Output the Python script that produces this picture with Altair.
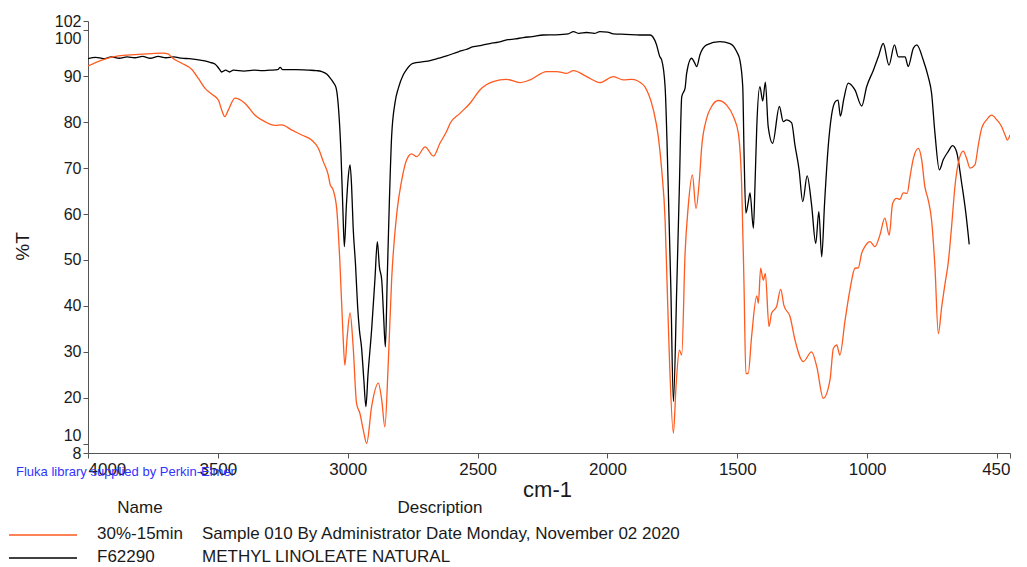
import altair as alt
import pandas as pd

# ---- data ----
black_wn = [4000, 3970, 3940, 3910, 3880, 3850, 3820, 3790, 3760, 3730, 3700, 3670, 3640, 3610, 3580,
            3550, 3530, 3510, 3495, 3485, 3470, 3455, 3440, 3400, 3360, 3330, 3300, 3270, 3260, 3250,
            3200, 3150, 3120, 3100, 3080, 3065, 3055, 3045, 3036, 3026, 3019, 3013, 3005, 2998, 2991,
            2985, 2979, 2970, 2962, 2955, 2947, 2938, 2930, 2922, 2908, 2895, 2886, 2878, 2869, 2862,
            2855, 2848, 2840, 2831, 2818, 2805, 2786, 2773, 2749, 2700, 2683, 2650, 2619, 2574, 2545,
            2516, 2485, 2452, 2420, 2388, 2355, 2324, 2290, 2247, 2200, 2151, 2131, 2110, 2080, 2050,
            2029, 2000, 1977, 1930, 1875, 1836, 1812, 1798, 1791, 1778, 1766, 1756, 1746, 1733, 1723,
            1714, 1701, 1695, 1676, 1665, 1656, 1644, 1618, 1567, 1528, 1502, 1490, 1479, 1474, 1467,
            1458, 1451, 1438, 1432, 1425, 1413, 1402, 1392, 1381, 1364, 1338, 1323, 1310, 1291, 1278,
            1262, 1248, 1231, 1214, 1198, 1186, 1175, 1164, 1151, 1137, 1122, 1112, 1103, 1090, 1073,
            1047, 1021, 1002, 976, 957, 938, 916, 895, 880, 854, 842, 822, 809, 784, 765,
            752, 739, 722, 707, 688, 671, 656, 636, 620, 607]
black_t = [93.8, 94.1, 93.8, 94.2, 93.9, 94.2, 94.0, 94.3, 93.9, 94.3, 94.0, 94.2, 93.9, 93.8, 93.6,
           93.3, 93.0, 92.6, 91.6, 90.9, 91.3, 90.9, 91.3, 91.1, 91.3, 91.2, 91.3, 91.4, 91.9, 91.4,
           91.4, 91.3, 91.2, 91.0, 90.4, 89.4, 88.6, 87.5, 83.4, 73.3, 61.6, 52.9, 62.0, 68.0, 70.7,
           66.0, 57.0, 49.0, 40.0, 34.8, 31.1, 24.0, 18.1, 25.0, 34.8, 46.0, 54.0, 48.5, 45.6, 38.0,
           31.1, 45.6, 62.0, 76.8, 84.2, 87.4, 90.3, 91.5, 92.8, 93.2, 93.4, 93.9, 94.4, 95.3, 95.8,
           96.4, 96.7, 97.1, 97.4, 97.9, 98.1, 98.4, 98.6, 98.95, 99.0, 99.2, 99.7, 99.3, 99.5, 99.3,
           99.7, 99.6, 99.2, 99.1, 98.95, 98.95, 97.0, 94.2, 93.5, 87.7, 66.0, 44.2, 19.2, 44.2, 66.0,
           85.5, 87.4, 90.6, 93.9, 93.0, 92.1, 94.6, 96.8, 97.5, 97.1, 95.3, 93.5, 87.7, 73.3, 60.2,
           62.5, 64.6, 56.9, 66.0, 79.0, 87.7, 84.6, 88.7, 79.0, 75.4, 83.4, 80.1, 80.5, 79.9, 75.0,
           69.6, 62.7, 68.3, 62.0, 53.6, 60.5, 50.7, 62.3, 73.9, 81.5, 84.5, 84.8, 81.3, 85.0, 88.5,
           87.0, 83.5, 87.7, 91.3, 94.2, 97.1, 92.4, 96.8, 94.2, 94.2, 92.1, 96.1, 96.8, 93.5, 89.9,
           86.3, 77.6, 69.6, 71.8, 73.6, 74.9, 73.6, 66.7, 60.2, 53.4]

orange_wn = [4000, 3947, 3883, 3819, 3755, 3710, 3690, 3678, 3639, 3601, 3575, 3550, 3524, 3498, 3485,
             3473, 3460, 3434, 3396, 3357, 3319, 3280, 3254, 3216, 3177, 3139, 3113, 3094, 3075, 3068,
             3056, 3042, 3030, 3019, 3011, 3002, 2991, 2979, 2966, 2953, 2940, 2927, 2908, 2882, 2869,
             2857, 2844, 2831, 2811, 2792, 2773, 2754, 2734, 2702, 2670, 2645, 2619, 2606, 2568, 2529,
             2491, 2440, 2388, 2337, 2298, 2234, 2196, 2157, 2131, 2080, 2029, 1977, 1939, 1907, 1862,
             1849, 1823, 1804, 1791, 1778, 1770, 1762, 1746, 1736, 1723, 1714, 1701, 1689, 1673, 1659,
             1646, 1637, 1618, 1599, 1573, 1541, 1515, 1496, 1483, 1474, 1467, 1458, 1445, 1425, 1419,
             1410, 1400, 1392, 1378, 1368, 1349, 1333, 1320, 1297, 1278, 1246, 1214, 1194, 1169, 1143,
             1130, 1117, 1105, 1085, 1066, 1047, 1034, 1021, 1009, 989, 970, 951, 932, 915, 902,
             886, 874, 861, 846, 835, 822, 803, 790, 778, 765, 752, 739, 726, 713, 700,
             688, 675, 662, 645, 630, 617, 604, 585, 572, 559, 540, 521, 501, 482, 469,
             460, 450]
orange_t = [92.2, 93.5, 94.4, 94.7, 94.9, 95.0, 94.8, 94.1, 92.8, 91.5, 89.5, 87.4, 86.1, 84.8, 82.6,
            81.2, 82.6, 85.2, 84.1, 81.5, 80.1, 79.3, 79.4, 78.3, 77.2, 76.1, 74.3, 71.4, 68.5, 66.5,
            65.2, 60.9, 49.3, 34.8, 27.1, 33.3, 38.5, 31.1, 18.8, 16.6, 13.0, 10.1, 18.1, 23.2, 19.5,
            13.7, 27.4, 45.6, 60.2, 67.4, 71.8, 73.1, 72.5, 74.6, 72.6, 75.4, 78.0, 79.7, 81.9, 84.1,
            87.0, 88.8, 89.3, 88.6, 89.2, 91.0, 91.0, 90.6, 91.2, 89.9, 88.6, 89.9, 89.2, 89.3, 88.1,
            87.0, 82.6, 76.8, 69.6, 58.7, 44.2, 29.7, 12.3, 22.4, 30.4, 29.3, 51.5, 61.6, 68.5, 61.2,
            67.4, 74.6, 80.8, 83.4, 84.7, 83.7, 81.2, 77.6, 66.0, 44.2, 25.3, 25.3, 33.3, 42.2, 40.6,
            48.2, 45.6, 47.1, 35.5, 38.4, 39.8, 43.6, 40.0, 37.7, 32.6, 27.9, 30.0, 26.8, 19.9, 23.9,
            30.8, 31.5, 29.3, 36.9, 43.6, 48.2, 48.3, 51.5, 52.9, 54.0, 52.9, 55.4, 59.1, 55.4, 62.3,
            63.4, 63.2, 64.6, 64.5, 68.1, 72.1, 74.3, 71.8, 66.0, 63.1, 58.7, 48.5, 34.0, 39.8, 44.9,
            49.3, 57.2, 66.0, 72.1, 73.7, 72.1, 70.0, 70.7, 75.0, 78.7, 80.5, 81.5, 80.5, 79.0, 77.2,
            76.1, 77.2]

x_ticks = [4000, 3500, 3000, 2500, 2000, 1500, 1000, 500, 450]
y_ticks = [8, 10, 20, 30, 40, 50, 60, 70, 80, 90, 100, 102]
series_names = ["30%-15min", "F62290"]
series_desc = ["Sample 010 By Administrator Date Monday, November 02 2020", "METHYL LINOLEATE NATURAL"]
series_colors = ["#ff5a1f", "#000000"]
credit = "Fluka library supplied by Perkin-Elmer"

FONT = "Liberation Sans"

df = pd.concat([
    pd.DataFrame({"wn": black_wn, "T": black_t, "series": series_names[1]}),
    pd.DataFrame({"wn": orange_wn, "T": orange_t, "series": series_names[0]}),
])

xscale = alt.Scale(domain=[4000, 450], nice=False, zero=False)
yscale = alt.Scale(domain=[8, 102], nice=False, zero=False)

xaxis = alt.Axis(values=x_ticks, format="d",
                 labelExpr="datum.value == 500 ? '' : datum.label",
                 labelOverlap=False, grid=False, tickSize=5, labelPadding=3,
                 labelFont=FONT, labelFontSize=17, labelColor="#1a1a1a",
                 domainColor="#555555", tickColor="#555555",
                 title="cm-1", titleFont=FONT, titleFontSize=22, titleFontWeight="normal",
                 titleColor="#1a1a1a", titleX=459, titleY=36, titleBaseline="middle",
                 titleAlign="center")
yaxis = alt.Axis(values=y_ticks, labelOverlap=False, grid=False, tickSize=5, labelPadding=2,
                 labelFont=FONT, labelFontSize=16, labelColor="#1a1a1a",
                 labelBaseline={"condition": [{"test": "datum.value == 100", "value": "top"},
                                              {"test": "datum.value == 10", "value": "bottom"}],
                                "value": "middle"},
                 domainColor="#555555", tickColor="#555555",
                 title="%T", titleFont=FONT, titleFontSize=19, titleFontWeight="normal",
                 titleColor="#1a1a1a", titleX=-66, titleY=225, titleAlign="center",
                 titleBaseline="middle")

color_scale = alt.Scale(domain=series_names, range=series_colors)

base = alt.Chart(df)


def spectrum(name):
    return base.transform_filter(alt.datum.series == name).mark_line(
        strokeWidth=1.3, clip=True, interpolate="monotone").encode(
        x=alt.X("wn:Q", scale=xscale, axis=xaxis),
        y=alt.Y("T:Q", scale=yscale, axis=yaxis),
        color=alt.Color("series:N", scale=color_scale, legend=None),
        order=alt.Order("wn:Q", sort="descending"),
    )


def text_layer(txt, x, y, size=17, color="#1a1a1a", align="left"):
    return alt.Chart(pd.DataFrame({"label": [txt]})).mark_text(
        font=FONT, fontSize=size, color=color, align=align, baseline="middle"
    ).encode(text="label:N", x=alt.value(x), y=alt.value(y))


def rule_layer(color, x1, x2, y):
    return alt.Chart(pd.DataFrame({"c": [color]})).mark_rule(
        color=color, strokeWidth=1.3
    ).encode(x=alt.value(x1), x2=alt.value(x2), y=alt.value(y))


layers = [
    spectrum(series_names[1]), spectrum(series_names[0]),
    text_layer(credit, -72, 451, size=13, color="#3333ff"),
    text_layer("Name", 52, 487, align="center"),
    text_layer("Description", 352, 487, align="center"),
    rule_layer(series_colors[0], -79, -11, 514),
    text_layer(series_names[0], 9, 513),
    text_layer(series_desc[0], 114, 513),
    rule_layer(series_colors[1], -79, -11, 537),
    text_layer(series_names[1], 9, 536),
    text_layer(series_desc[1], 114, 536),
]

chart = alt.layer(*layers).properties(
    width=922, height=432,
    autosize=alt.AutoSizeParams(type="none"),
    padding={"left": 88, "top": 21, "right": 17, "bottom": 114},
    background="white",
).configure_view(strokeWidth=0)

chart.save("out.html", embed_options={"renderer": "svg", "actions": False})
